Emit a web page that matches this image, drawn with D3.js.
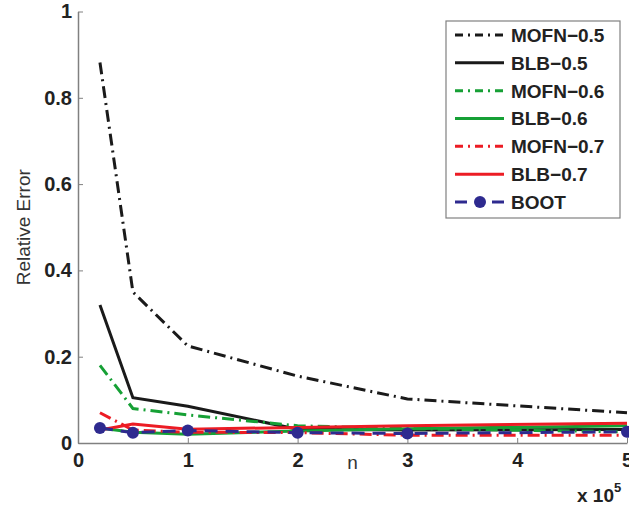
<!DOCTYPE html>
<html>
<head>
<meta charset="utf-8">
<script src="https://cdn.jsdelivr.net/npm/d3@7"></script>
<style>
  body { margin: 0; background: #fff; }
  svg { display: block; }
</style>
</head>
<body>
<div id="chart"></div>
<script>
// data (n in units of 10^5)
var nValues = [0.2, 0.5, 1, 2, 3, 5];
var seriesNames = ["MOFN-0.5", "BLB-0.5", "MOFN-0.6", "BLB-0.6", "MOFN-0.7", "BLB-0.7", "BOOT"];
var mofn05 = [0.882, 0.350, 0.225, 0.155, 0.102, 0.070];
var blb05  = [0.320, 0.105, 0.085, 0.032, 0.030, 0.031];
var mofn06 = [0.180, 0.080, 0.065, 0.040, 0.033, 0.026];
var blb06  = [0.035, 0.025, 0.020, 0.028, 0.033, 0.040];
var mofn07 = [0.070, 0.030, 0.025, 0.024, 0.018, 0.018];
var blb07  = [0.030, 0.044, 0.032, 0.036, 0.040, 0.046];
var boot   = [0.035, 0.024, 0.029, 0.024, 0.022, 0.026];
var yTicks = [0, 0.2, 0.4, 0.6, 0.8, 1];
var xTicks = [0, 1, 2, 3, 4, 5];

var W = 629, H = 510;
var plotLeft = 78, plotRight = 627, plotTop = 11.5, plotBottom = 443;

var svg = d3.select("#chart").append("svg")
    .attr("width", W)
    .attr("height", H);

var x = d3.scaleLinear().domain([0, 5]).range([plotLeft, plotRight]);
var y = d3.scaleLinear().domain([0, 1]).range([plotBottom, plotTop]);

var dashDot = "12,5,2,5";
var series = [
  {name: seriesNames[0], values: mofn05, color: "#1a1a1a", dash: dashDot},
  {name: seriesNames[1], values: blb05,  color: "#1a1a1a", dash: null},
  {name: seriesNames[2], values: mofn06, color: "#16a035", dash: dashDot},
  {name: seriesNames[3], values: blb06,  color: "#16a035", dash: null},
  {name: seriesNames[4], values: mofn07, color: "#ec1c24", dash: dashDot},
  {name: seriesNames[5], values: blb07,  color: "#ec1c24", dash: null},
  {name: seriesNames[6], values: boot,   color: "#2e2a8f", dash: "13,8", marker: true}
];

var line = d3.line()
    .x(function(d, i) { return x(nValues[i]); })
    .y(function(d) { return y(d); });

// axes
var axisColor = "#808080";
var yAxis = svg.append("g")
    .attr("transform", "translate(" + plotLeft + ",0)")
    .call(d3.axisLeft(y).tickValues(yTicks).tickSizeInner(-5).tickSizeOuter(0).tickPadding(6)
      .tickFormat(function(d) { return d3.format("~g")(d); }));
var xAxis = svg.append("g")
    .attr("transform", "translate(0," + plotBottom + ")")
    .call(d3.axisBottom(x).tickValues(xTicks).tickSizeInner(-5).tickSizeOuter(0).tickPadding(10)
      .tickFormat(d3.format("d")));

[yAxis, xAxis].forEach(function(a) {
  a.select(".domain").attr("stroke", axisColor).attr("stroke-width", 1.5);
  a.selectAll(".tick line").attr("stroke", axisColor).attr("stroke-width", 1);
  a.selectAll(".tick text")
    .attr("fill", "#222")
    .style("font-family", "'Liberation Sans', Arial, sans-serif")
    .style("font-size", "20px")
    .style("font-weight", "bold");
});

// lines
series.forEach(function(s) {
  svg.append("path")
    .datum(s.values)
    .attr("d", line)
    .attr("fill", "none")
    .attr("stroke", s.color)
    .attr("stroke-width", 3)
    .attr("stroke-dasharray", s.dash);
  if (s.marker) {
    svg.selectAll(".dot")
      .data(s.values)
      .enter().append("circle")
      .attr("cx", function(d, i) { return x(nValues[i]); })
      .attr("cy", function(d) { return y(d); })
      .attr("r", 6)
      .attr("fill", s.color);
  }
});

// axis labels
svg.append("text")
    .attr("transform", "translate(30," + ((plotTop + plotBottom) / 2) + ") rotate(-90)")
    .attr("text-anchor", "middle")
    .attr("fill", "#333")
    .style("font-family", "'Liberation Sans', Arial, sans-serif")
    .style("font-size", "19px")
    .text("Relative Error");

svg.append("text")
    .attr("x", (plotLeft + plotRight) / 2)
    .attr("y", 469)
    .attr("text-anchor", "middle")
    .attr("fill", "#333")
    .style("font-family", "'Liberation Sans', Arial, sans-serif")
    .style("font-size", "19px")
    .text("n");

var mult = svg.append("text")
    .attr("x", 577)
    .attr("y", 502)
    .attr("fill", "#222")
    .style("font-family", "'Liberation Sans', Arial, sans-serif")
    .style("font-size", "19px")
    .style("font-weight", "bold");
mult.append("tspan").text("x 10");
mult.append("tspan").attr("dy", -10).style("font-size", "13px").text("5");

// legend
var lg = svg.append("g");
lg.append("rect")
    .attr("x", 446).attr("y", 21)
    .attr("width", 174).attr("height", 197)
    .attr("fill", "#fff")
    .attr("stroke", axisColor)
    .attr("stroke-width", 1.2);

var legendY = d3.scalePoint().domain(seriesNames).range([35, 202]);
series.forEach(function(s) {
  var yy = legendY(s.name);
  lg.append("line")
    .attr("x1", 455).attr("x2", 504)
    .attr("y1", yy).attr("y2", yy)
    .attr("stroke", s.color)
    .attr("stroke-width", 3)
    .attr("stroke-dasharray", s.dash ? (s.marker ? "12,25" : "8,5,2,5") : null);
  if (s.marker) {
    lg.append("circle").attr("cx", 480).attr("cy", yy).attr("r", 6).attr("fill", s.color);
  }
  lg.append("text")
    .attr("x", 511).attr("y", yy)
    .attr("dy", "0.36em")
    .attr("fill", "#222")
    .style("font-family", "'Liberation Sans', Arial, sans-serif")
    .style("font-size", "19px")
    .style("font-weight", "bold")
    .text(s.name.replace("-", "\u2212"));
});
</script>
</body>
</html>
